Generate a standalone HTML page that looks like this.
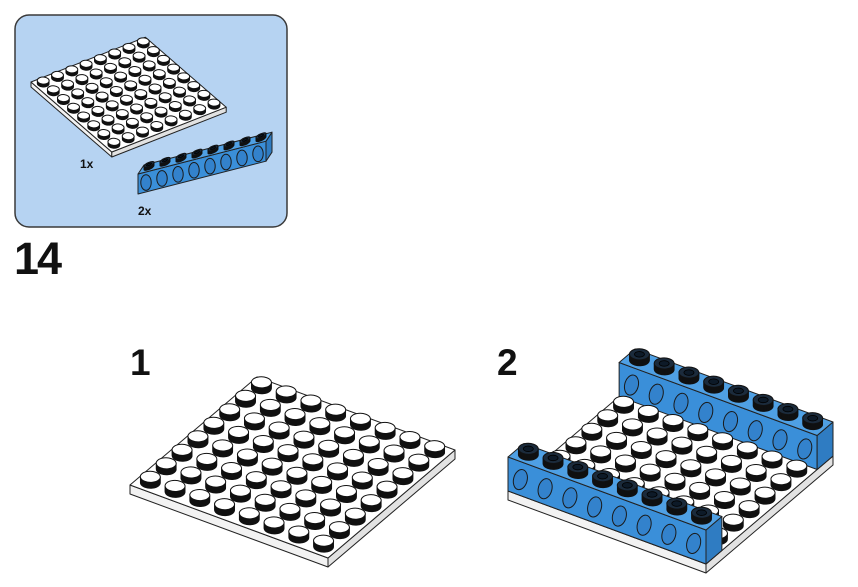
<!DOCTYPE html>
<html><head><meta charset="utf-8"><style>
html,body{margin:0;padding:0;background:#fff;}
svg{display:block;}
text{font-family:"Liberation Sans",sans-serif;font-weight:bold;fill:#111;}
</style></head><body>
<svg id="s" width="858" height="587" viewBox="0 0 858 587">
<rect x="15" y="15" width="272" height="212" rx="14" fill="#b6d3f2" stroke="#3a3a3a" stroke-width="1.5"/>
<g id="inset"></g>
<text x="80" y="168" font-size="12">1x</text>
<text x="138" y="215" font-size="12">2x</text>
<text x="14" y="274" font-size="45" letter-spacing="-2">14</text>
<text x="130" y="375" font-size="37">1</text>
<text x="497" y="375" font-size="37">2</text>
<g id="m1"></g>
<g id="m2"></g>
</svg>
<script>
const NS="http://www.w3.org/2000/svg";
function el(p,t,a){const e=document.createElementNS(NS,t);for(const k in a)e.setAttribute(k,a[k]);p.appendChild(e);return e;}
function pt(O,u,v,i,j,dy){return [O[0]+u[0]*i+v[0]*j,O[1]+u[1]*i+v[1]*j+(dy||0)];}
function poly(p,pts,fill,name){const e=el(p,'polygon',{points:pts.map(q=>q.join(',')).join(' '),fill:fill,stroke:'#222','stroke-width':1,'stroke-linejoin':'round'});


return e;}
function stud(p,c,u,v,r,h,top,side,hole){
  const g=el(p,'g',{});
  
  
  for(let k=h;k>=0;k-=1){
    el(g,'circle',{r:r,fill:k==0?top:side,stroke:'#111','stroke-width':k==0?1:0.8,'vector-effect':'non-scaling-stroke',
      transform:`matrix(${u[0]},${u[1]},${v[0]},${v[1]},${c[0]},${c[1]+k})`});
  }
  if(hole) el(g,'circle',{r:r*0.5,fill:'#0d1a28',stroke:'#000','stroke-width':0.8,'vector-effect':'non-scaling-stroke',
      transform:`matrix(${u[0]},${u[1]},${v[0]},${v[1]},${c[0]},${c[1]})`});
}
function plate(p,O,u,v,n,t){
  const L=O,F=pt(O,u,v,n,0),R=pt(O,u,v,n,n),B=pt(O,u,v,0,n);
  poly(p,[L,F,[F[0],F[1]+t],[L[0],L[1]+t]],'#f2f2f2','plate-front-side');
  poly(p,[F,R,[R[0],R[1]+t],[F[0],F[1]+t]],'#e2e2e2','plate-right-side');
  poly(p,[L,F,R,B],'#ffffff','plate-top');
}
function plateStuds(p,O,u,v,n,sh,r,j0,j1){
  for(let j=j1;j>=j0;j--)for(let i=0;i<n;i++){
    stud(p,pt(O,u,v,i+.5,j+.5,-sh),u,v,r,sh,'#fff','#111',false);
  }
}
function brick(p,O,a,w,n,H,sh,r,hs,rot){
  const up=q=>[q[0],q[1]-H];
  const A=O,Bp=pt(O,a,w,n,0),C=pt(O,a,w,n,1),D=pt(O,a,w,0,1);
  poly(p,[up(A),up(Bp),Bp,A],'#3a8fd9','brick-long-face');
  poly(p,[up(Bp),up(C),C,Bp],'#2f7cc2','brick-end-face');
  poly(p,[up(A),up(Bp),up(C),up(D)],'#4fa0e4','brick-top-face');
  const ang=Math.atan2(a[1],a[0])*57.3;
  for(let i=0;i<n;i++){
    const c=pt(O,a,w,i+.5,0,-H*0.47);
    const e=el(p,'ellipse',{cx:c[0],cy:c[1],rx:H*0.2*hs,ry:H*0.3*hs,fill:'#3382cc',stroke:'#1a1a1a','stroke-width':1,
      transform:`rotate(${ang*rot} ${c[0]} ${c[1]})`});
    
    
  }
  for(let i=0;i<n;i++){
    const c=pt(O,a,w,i+.5,.5,-H-sh);
    stud(p,c,a,w,r,sh,'#1b2b3c','#0b0f14',true);
  }
}
const m1=document.getElementById('m1');
const O1=[130,485],u1=[24.75,9.125],v1=[15.875,-13.5];
plate(m1,O1,u1,v1,8,9);
plateStuds(m1,O1,u1,v1,8,6,0.34,0,7);
const m2=document.getElementById('m2');
const O2=[508,491];
plate(m2,O2,u1,v1,8,9);
brick(m2,pt(O2,u1,v1,0,7),u1,v1,8,34,6,0.34,1,0.7);
plateStuds(m2,O2,u1,v1,8,6,0.34,1,6);
brick(m2,O2,u1,v1,8,34,6,0.34,1,0.7);
const ins=document.getElementById('inset');
const O3=[31,82],u3=[10.1,8.75],v3=[14.3,-5.6];
plate(ins,O3,u3,v3,8,5);
plateStuds(ins,O3,u3,v3,8,3,0.34,0,7);
brick(ins,[138,194],[16,-4.1],[6,-9],8,20,3,0.3,1.3,0);
</script>
</body></html>
